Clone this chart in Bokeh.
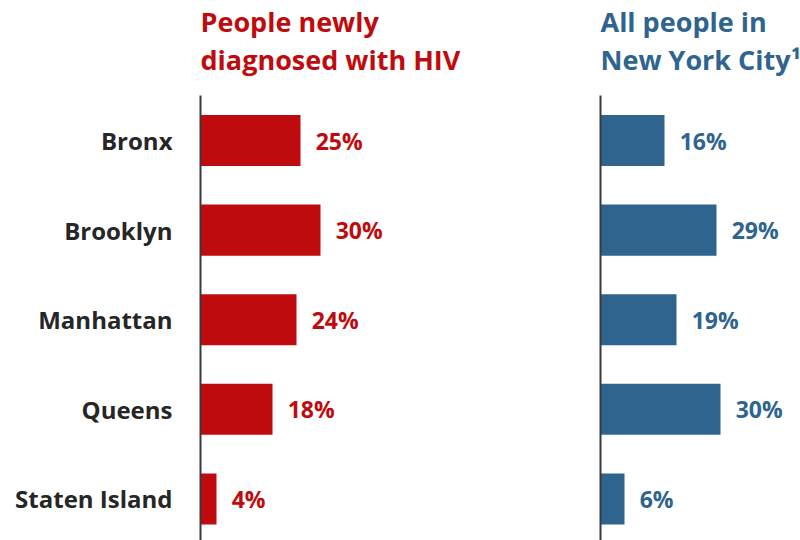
from bokeh.plotting import figure
from bokeh.models import Range1d, ColumnDataSource
from bokeh.core.properties import value
from bokeh.embed import file_html
from bokeh.resources import INLINE

# ---- data ----
boroughs = ["Bronx", "Brooklyn", "Manhattan", "Queens", "Staten Island"]
hiv_pct = [25, 30, 24, 18, 4]
nyc_pct = [16, 29, 19, 30, 6]
left_title = ["People newly", "diagnosed with HIV"]
right_title = ["All people in", "New York City\u00b9"]

RED = "#C00B0E"
BLUE = "#2E648E"
DARK = "#262626"
AXIS = "#3A3A3A"
FONT = value("Open Sans")

RIGHT_ORIGIN = 100   # x position (in % units) of the second panel's baseline
LABEL_PAD = 3.8      # gap between bar end and value label, in % units

idx = list(range(len(boroughs)))

p = figure(width=800, height=540, x_range=Range1d(-50, 150),
           y_range=Range1d(4.464, -1.5625),
           output_backend="svg", toolbar_location=None,
           x_axis_location=None, y_axis_location=None, min_border=0)
p.grid.visible = False
p.outline_line_color = None


def panel(vals, color, title_lines, origin, show_cats):
    src = ColumnDataSource(dict(
        y=idx,
        left=[origin] * len(vals),
        right=[origin + v for v in vals],
        lx=[origin + v + LABEL_PAD for v in vals],
        lab=[f"{v}%" for v in vals],
        cat=boroughs,
    ))
    p.hbar(y="y", left="left", right="right", height=0.57, fill_color=color,
           line_color=None, source=src)
    # axis line
    p.segment(x0=[origin], y0=[-0.502], x1=[origin], y1=[4.5],
              line_width=2, line_color=AXIS)
    # value labels
    p.text(x="lx", y="y", text="lab", text_align="left",
           text_baseline="middle", text_font=FONT, text_font_style="bold",
           text_font_size="23px", text_color=color, source=src)
    if show_cats:
        p.text(x=origin - 7, y="y", text="cat", text_align="right",
               text_baseline="middle", text_font=FONT, text_font_style="bold",
               text_font_size="24px", text_color=DARK, source=src)
    # title lines
    p.text(x=[origin, origin], y=[-1.33, -0.905], text=title_lines,
           text_align="left", text_baseline="alphabetic", text_font=FONT,
           text_font_style="bold", text_font_size="27px", text_color=color)


panel(hiv_pct, RED, left_title, 0, True)
panel(nyc_pct, BLUE, right_title, RIGHT_ORIGIN, False)

open("out.html", "w").write(file_html(p, INLINE))
